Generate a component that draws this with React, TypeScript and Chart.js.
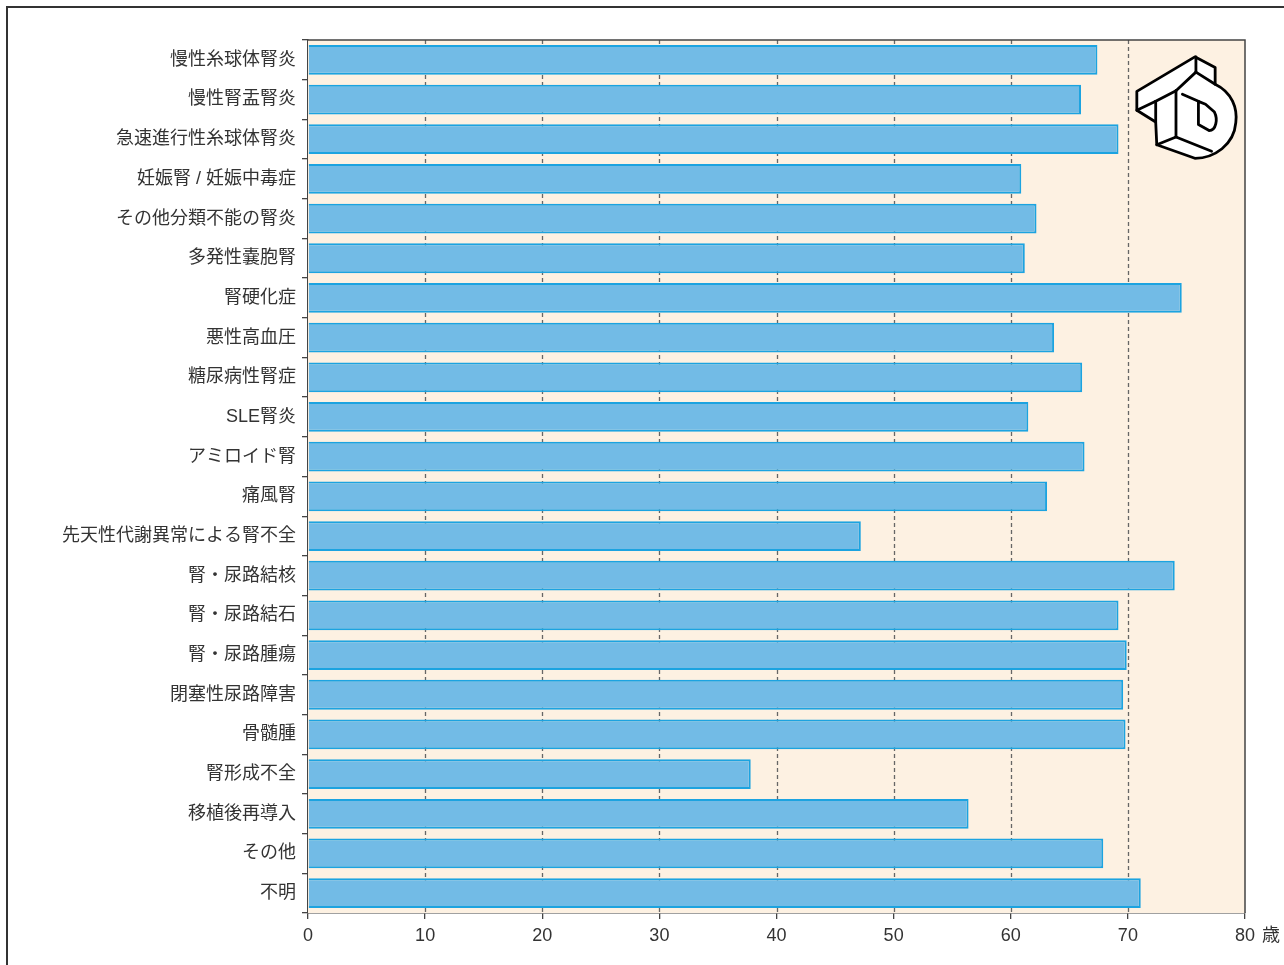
import React, { useEffect, useRef } from "react";
import { Chart, registerables } from "chart.js";

Chart.register(...registerables);

const categories = [
  "慢性糸球体腎炎",
  "慢性腎盂腎炎",
  "急速進行性糸球体腎炎",
  "妊娠腎 / 妊娠中毒症",
  "その他分類不能の腎炎",
  "多発性嚢胞腎",
  "腎硬化症",
  "悪性高血圧",
  "糖尿病性腎症",
  "SLE腎炎",
  "アミロイド腎",
  "痛風腎",
  "先天性代謝異常による腎不全",
  "腎・尿路結核",
  "腎・尿路結石",
  "腎・尿路腫瘍",
  "閉塞性尿路障害",
  "骨髄腫",
  "腎形成不全",
  "移植後再導入",
  "その他",
  "不明",
];

const meanAge = [
  67.4, 66.0, 69.2, 60.9, 62.2, 61.2, 74.6, 63.7, 66.1, 61.5, 66.3, 63.1,
  47.2, 74.0, 69.2, 69.9, 69.6, 69.8, 37.8, 56.4, 67.9, 71.1,
];

const xTicks = [0, 10, 20, 30, 40, 50, 60, 70, 80];
const dashedGridValues = [10, 20, 30, 40, 50, 60, 70];
const unitLabel = "歳";

const FONT = '"Liberation Sans", "Noto Sans CJK JP", sans-serif';

const bgPlugin = {
  id: "plotDecor",
  beforeDatasetsDraw(chart: any) {
    const { ctx, chartArea } = chart;
    const xs = chart.scales.x;
    ctx.save();
    ctx.fillStyle = "#fdf1e2";
    ctx.fillRect(chartArea.left, chartArea.top, chartArea.right - chartArea.left, chartArea.bottom - chartArea.top);
    ctx.strokeStyle = "#666";
    ctx.lineWidth = 1.3;
    ctx.setLineDash([4, 3]);
    for (const v of dashedGridValues) {
      const x = Math.round(xs.getPixelForValue(v)) + 0.5;
      ctx.beginPath();
      ctx.moveTo(x, chartArea.top);
      ctx.lineTo(x, chartArea.bottom);
      ctx.stroke();
    }
    ctx.restore();
  },
  afterDatasetsDraw(chart: any) {
    const { ctx, chartArea } = chart;
    const xs = chart.scales.x;
    ctx.save();
    ctx.strokeStyle = "#444";
    ctx.lineWidth = 1.5;
    ctx.beginPath();
    ctx.moveTo(chartArea.left, chartArea.top);
    ctx.lineTo(chartArea.right, chartArea.top);
    ctx.lineTo(chartArea.right, chartArea.bottom);
    ctx.stroke();
    // unit label
    ctx.fillStyle = "#333";
    ctx.font = `18px "Noto Sans CJK JP", sans-serif`;
    ctx.textAlign = "left";
    ctx.textBaseline = "middle";
    const x80 = xs.getPixelForValue(80);
    ctx.fillText(unitLabel, x80 + 17, chartArea.bottom + 21);

    // logo
    const s = 0.356;
    const ox = chartArea.right - 116;
    const oy = chartArea.top + 11.5;
    const P = (zx: number, zy: number): [number, number] => [ox + zx * s, oy + zy * s];
    ctx.lineJoin = "round";
    ctx.lineCap = "round";
    ctx.strokeStyle = "#000";
    ctx.lineWidth = 2.8;
    ctx.fillStyle = "#fff";
    ctx.beginPath();
    ctx.moveTo(...P(185, 15));
    ctx.lineTo(...P(242, 45));
    ctx.lineTo(...P(242, 92));
    ctx.bezierCurveTo(...P(290, 115), ...P(305, 160), ...P(300, 200));
    ctx.bezierCurveTo(...P(295, 262), ...P(240, 300), ...P(185, 300));
    ctx.lineTo(...P(78, 262));
    ctx.lineTo(...P(75, 198));
    ctx.lineTo(...P(22, 165));
    ctx.lineTo(...P(22, 112));
    ctx.closePath();
    ctx.fill();
    ctx.stroke();
    const seg = (a: [number, number], b: [number, number]) => {
      ctx.beginPath();
      ctx.moveTo(...a);
      ctx.lineTo(...b);
      ctx.stroke();
    };
    seg(P(22, 165), P(75, 140));
    seg(P(75, 140), P(75, 198));
    seg(P(75, 140), P(132, 110));
    seg(P(132, 110), P(132, 240));
    seg(P(78, 262), P(132, 240));
    seg(P(132, 240), P(232, 280));
    seg(P(188, 15), P(188, 58));
    seg(P(188, 58), P(242, 92));
    seg(P(188, 58), P(132, 110));
    seg(P(150, 120), P(195, 140));
    ctx.beginPath();
    ctx.moveTo(...P(195, 140));
    ctx.lineTo(...P(195, 205));
    ctx.lineTo(...P(225, 222));
    ctx.bezierCurveTo(...P(245, 222), ...P(250, 190), ...P(240, 170));
    ctx.lineTo(...P(215, 148));
    ctx.closePath();
    ctx.stroke();
    ctx.restore();
  },
};

export default function App() {
  const ref = useRef<HTMLCanvasElement | null>(null);
  useEffect(() => {
    if (!ref.current) return;
    const chart = new Chart(ref.current, {
      type: "bar",
      data: {
        labels: categories,
        datasets: [
          {
            data: meanAge,
            backgroundColor: "#72bbe6",
            borderColor: "#1ca3e0",
            borderWidth: 2,
            barPercentage: 0.75,
            categoryPercentage: 1,
          },
        ],
      },
      options: {
        indexAxis: "y",
        responsive: false,
        animation: false,
        devicePixelRatio: 1,
        layout: { padding: { top: 40, right: 39, left: 0, bottom: 0 } },
        plugins: { legend: { display: false }, tooltip: { enabled: false } },
        scales: {
          x: {
            type: "linear",
            min: 0,
            max: 80,
            afterBuildTicks: (sc: any) => {
              sc.ticks = xTicks.map((v) => ({ value: v }));
            },
            afterFit: (sc: any) => {
              sc.height = 52;
            },
            grid: {
              drawOnChartArea: false,
              drawTicks: true,
              tickLength: 6,
              color: "#444",
              lineWidth: 1.3,
            },
            border: { color: "#444", width: 1.5 },
            ticks: {
              color: "#333",
              padding: 6,
              font: { family: FONT, size: 18 },
              maxRotation: 0,
            },
          },
          y: {
            type: "category",
            afterFit: (sc: any) => {
              sc.width = 308;
            },
            grid: {
              offset: true,
              drawOnChartArea: false,
              drawTicks: true,
              tickLength: 6,
              color: "#444",
              lineWidth: 1.3,
            },
            border: { color: "#444", width: 1.5 },
            ticks: {
              color: "#333",
              padding: 6,
              autoSkip: false,
              font: { family: FONT, size: 18 },
            },
          },
        },
      },
      plugins: [bgPlugin],
    });
    return () => chart.destroy();
  }, []);

  return (
    <div
      style={{
        position: "fixed",
        left: 0,
        top: 0,
        width: 1284,
        height: 965,
        overflow: "hidden",
        background: "#fff",
      }}
    >
      <div
        style={{
          position: "absolute",
          left: 6,
          top: 6,
          width: 1400,
          height: 1100,
          border: "2px solid #333",
        }}
      />
      <canvas
        ref={ref}
        width={1284}
        height={965}
        style={{ position: "absolute", left: 0, top: 0, width: 1284, height: 965 }}
      />
    </div>
  );
}
